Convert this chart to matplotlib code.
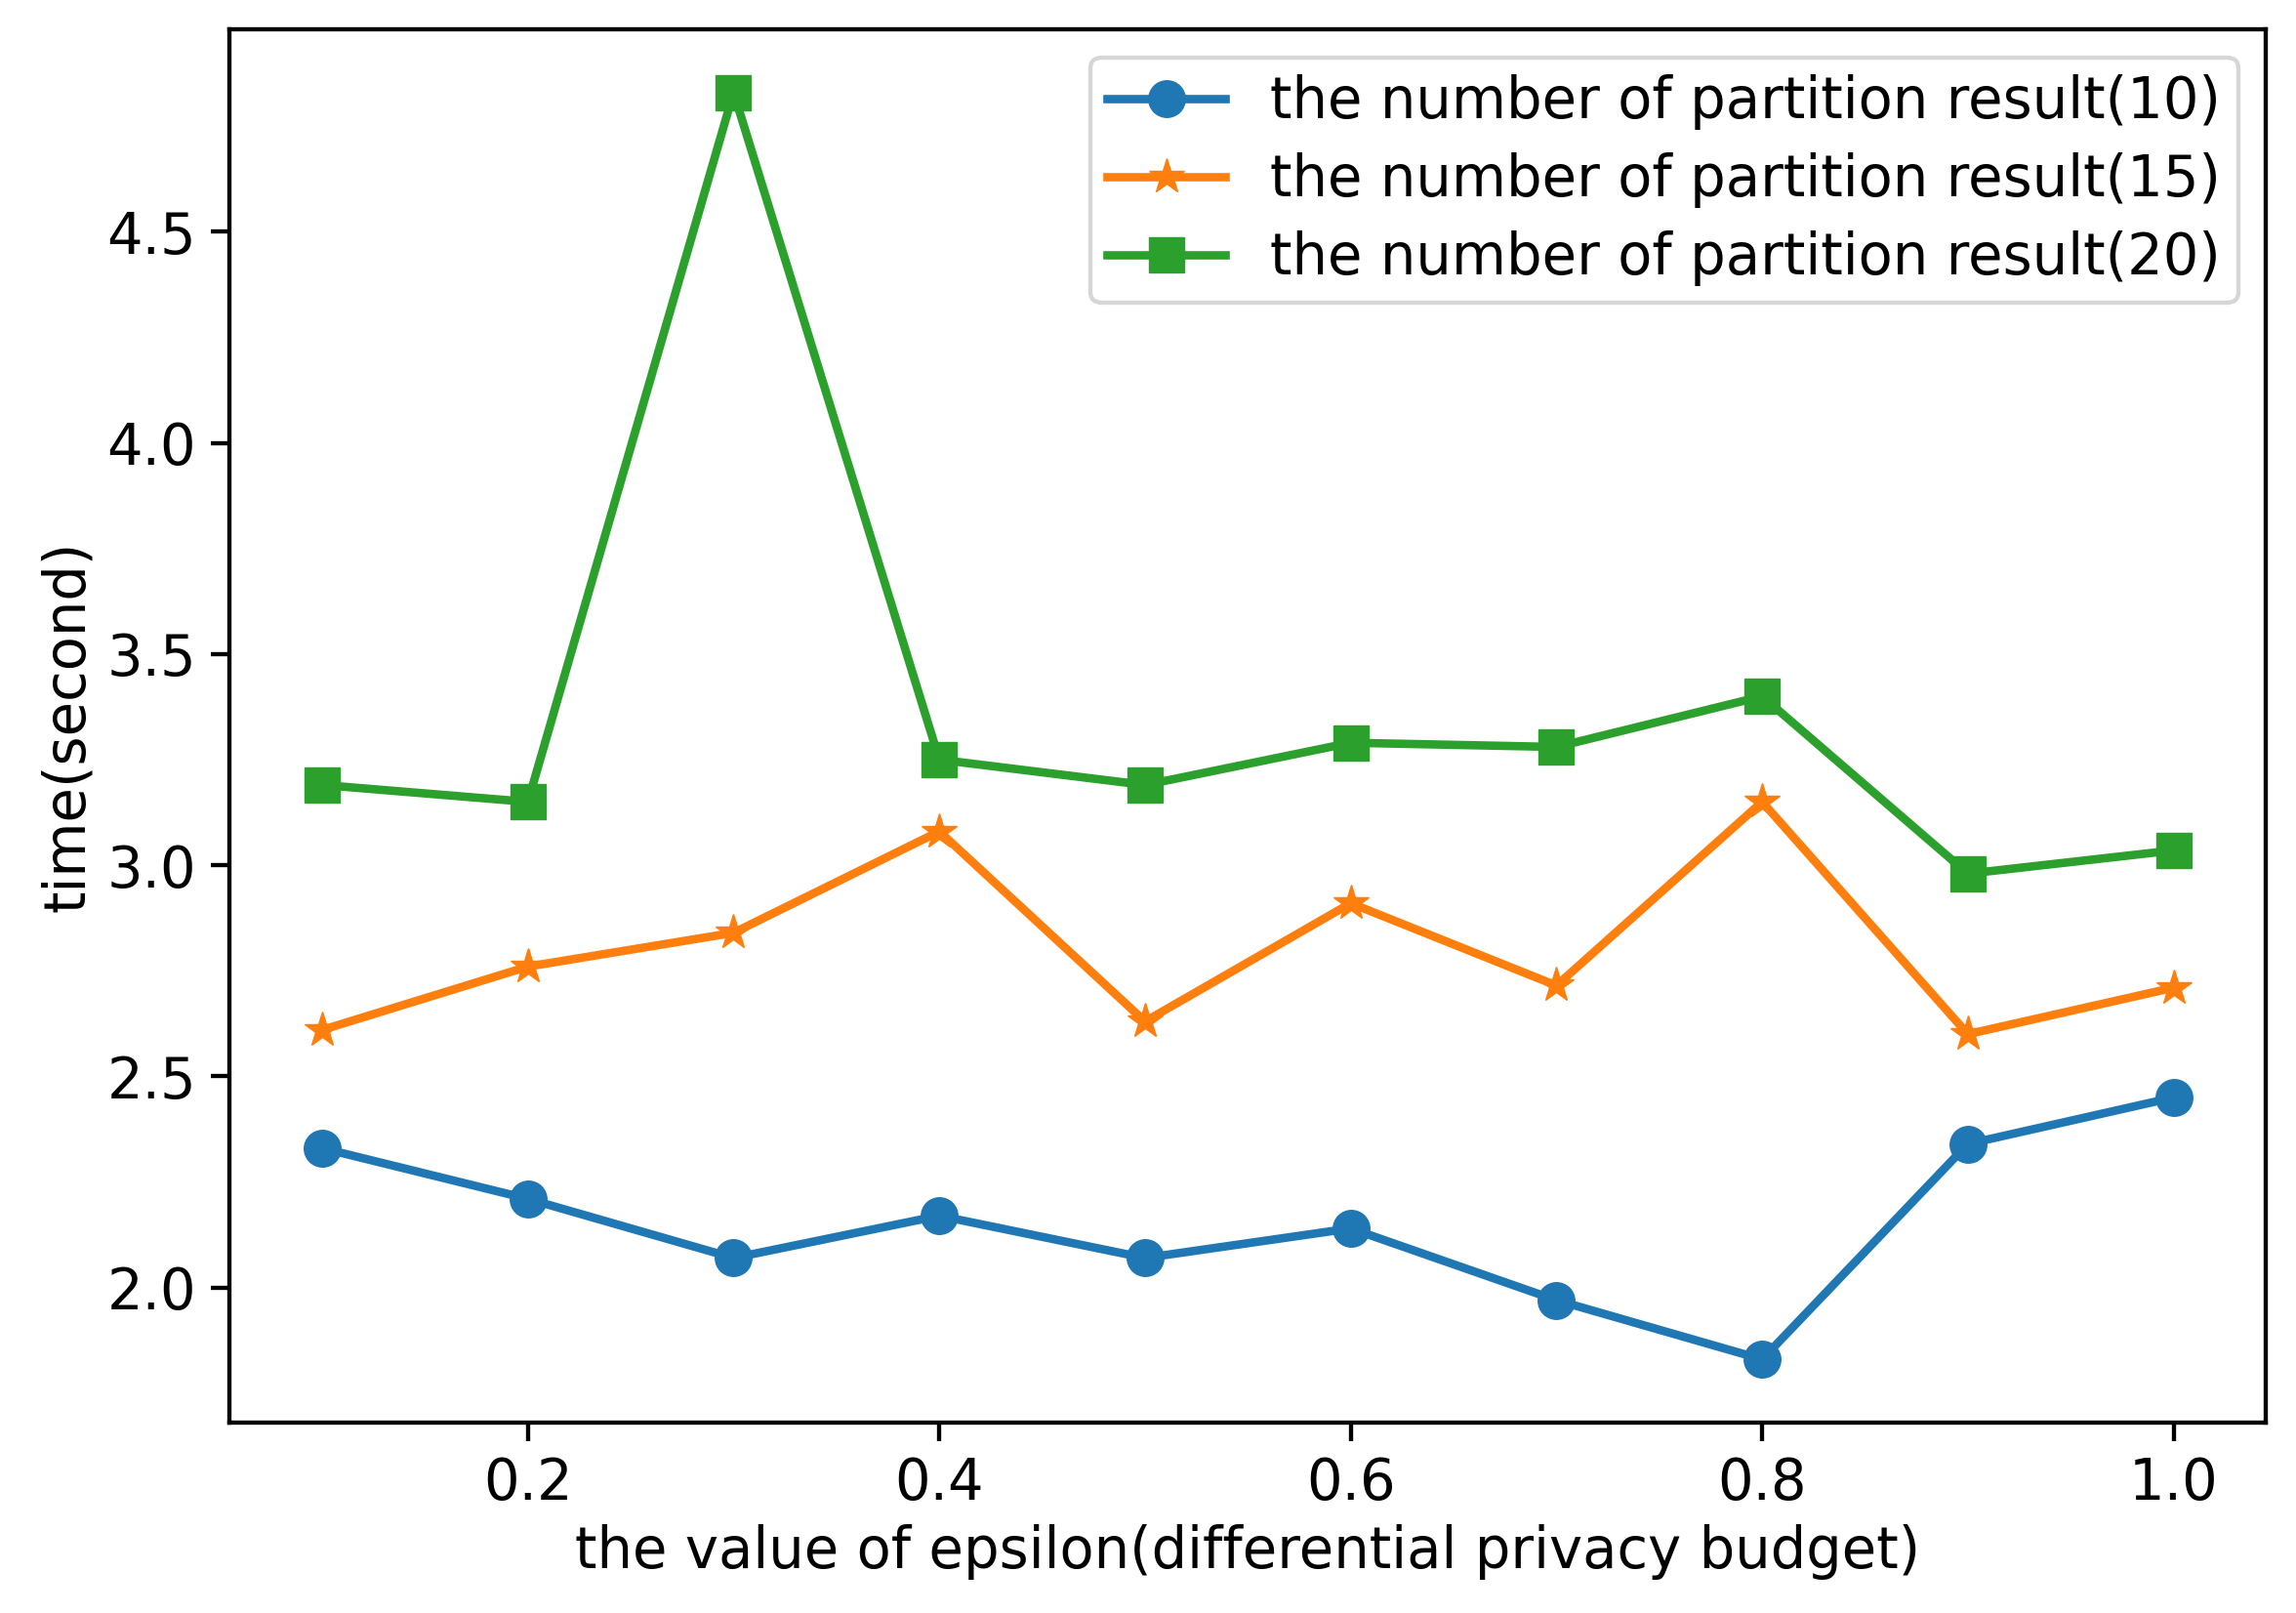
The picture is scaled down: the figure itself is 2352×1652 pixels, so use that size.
import matplotlib
matplotlib.use("Agg")
import matplotlib.pyplot as plt

epsilon = [0.1, 0.2, 0.3, 0.4, 0.5, 0.6, 0.7, 0.8, 0.9, 1.0]
time_10 = [2.33, 2.21, 2.07, 2.17, 2.07, 2.14, 1.97, 1.83, 2.34, 2.45]
time_15 = [2.61, 2.76, 2.84, 3.08, 2.63, 2.91, 2.715, 3.15, 2.60, 2.71]
time_20 = [3.19, 3.15, 4.83, 3.25, 3.19, 3.29, 3.28, 3.40, 2.98, 3.035]
labels = ["the number of partition result(10)",
          "the number of partition result(15)",
          "the number of partition result(20)"]

s = 3.9
fig = plt.figure(figsize=(23.52, 16.52), dpi=100)
ax = fig.add_axes([0.100, 0.118, 0.887, 0.864])

ms = 27
lw = 6.2
ax.plot(epsilon, time_10, marker='o', color='#1f77b4', lw=lw, ms=ms, label=labels[0])
ax.plot(epsilon, time_15, marker='*', color='#ff7f0e', lw=lw, ms=ms, label=labels[1])
ax.plot(epsilon, time_20, marker='s', color='#2ca02c', lw=lw, ms=ms * 0.95, label=labels[2])

fs = 41.5
ax.set_xlabel("the value of epsilon(differential privacy budget)", fontsize=fs, labelpad=9)
ax.set_ylabel("time(second)", fontsize=fs, labelpad=8)
ax.set_yticks([2.0, 2.5, 3.0, 3.5, 4.0, 4.5])
ax.set_xticks([0.2, 0.4, 0.6, 0.8, 1.0])
ax.tick_params(labelsize=fs, length=3.5 * s, width=0.8 * s, pad=11)
for sp in ax.spines.values():
    sp.set_linewidth(0.8 * s)

leg = ax.legend(loc='upper right', fontsize=fs, labelspacing=0.4,
                borderpad=0.3, handlelength=2.1)
leg.get_frame().set_linewidth(0.8 * s)

fig.savefig("out.png", dpi=100)
